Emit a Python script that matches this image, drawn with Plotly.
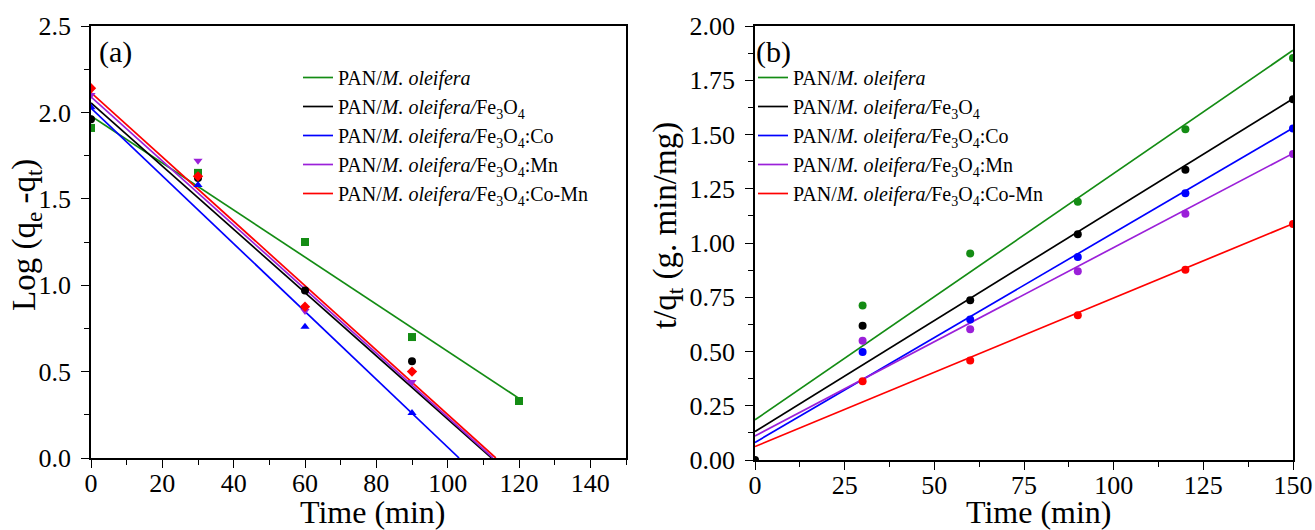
import plotly.graph_objects as go

# ---------------- data ----------------
series_names = [
    "PAN/<i>M. oleifera</i>",
    "PAN/<i>M. oleifera/</i>Fe<sub>3</sub>O<sub>4</sub>",
    "PAN/<i>M. oleifera/</i>Fe<sub>3</sub>O<sub>4</sub>:Co",
    "PAN/<i>M. oleifera/</i>Fe<sub>3</sub>O<sub>4</sub>:Mn",
    "PAN/<i>M. oleifera/</i>Fe<sub>3</sub>O<sub>4</sub>:Co-Mn",
]
colors = ["#148c14", "#000000", "#0000ff", "#9b20d9", "#ff0000"]
symbols_a = ["square", "circle", "triangle-up", "triangle-down", "diamond"]

# (a) pseudo-first-order: Log(qe - qt) vs time
time_a_green = [0, 30, 60, 90, 120]
time_a_other = [0, 30, 60, 90]
loga_green = [1.91, 1.65, 1.25, 0.70, 0.33]
loga_black = [1.96, 1.62, 0.97, 0.56]
loga_blue = [2.03, 1.58, 0.76, 0.26]
loga_purple = [2.10, 1.72, 0.85, 0.44]
loga_red = [2.14, 1.63, 0.875, 0.50]

# fitted lines (a): start value at t=0, end time, end value
fit_a_start_y = [1.98, 2.055, 2.025, 2.09, 2.115]
fit_a_end_t = [120, 112.3, 103.2, 112.7, 113.5]
fit_a_end_y = [0.345, 0.0, 0.0, 0.0, 0.0]

# (b) pseudo-second-order: t/qt vs time
time_b = [30, 60, 90, 120, 150]
time_b_black = [0, 30, 60, 90, 120, 150]
tq_green = [0.712, 0.952, 1.19, 1.524, 1.853]
tq_black = [0.0, 0.619, 0.736, 1.04, 1.338, 1.662]
tq_blue = [0.498, 0.647, 0.935, 1.229, 1.528]
tq_purple = [0.550, 0.603, 0.870, 1.135, 1.41]
tq_red = [0.363, 0.458, 0.667, 0.877, 1.088]

# fitted lines (b): value at t=0 and at t=150
fit_b_t = [0, 150]
fit_b_start_y = [0.185, 0.131, 0.081, 0.111, 0.062]
fit_b_end_y = [1.888, 1.665, 1.530, 1.413, 1.089]

ticks_a_x = [0, 20, 40, 60, 80, 100, 120, 140]
ticks_a_y = [0.0, 0.5, 1.0, 1.5, 2.0, 2.5]
ticks_b_x = [0, 25, 50, 75, 100, 125, 150]
ticks_b_y = [0.0, 0.25, 0.5, 0.75, 1.0, 1.25, 1.5, 1.75, 2.0]

# ---------------- figure ----------------
W, H = 1315, 530
FONT = "Liberation Serif, Times New Roman, serif"

def px(x):
    return x / W

def py(y):
    return 1 - y / H

fig = go.Figure()

pts_a = [
    (time_a_green, loga_green),
    (time_a_other, loga_black),
    (time_a_other, loga_blue),
    (time_a_other, loga_purple),
    (time_a_other, loga_red),
]
for i in range(5):
    fig.add_trace(go.Scatter(
        x=[0, fit_a_end_t[i]], y=[fit_a_start_y[i], fit_a_end_y[i]],
        mode="lines", line=dict(color=colors[i], width=1.7),
        name=series_names[i], legend="legend", xaxis="x", yaxis="y"))
for i in range(5):
    fig.add_trace(go.Scatter(
        x=pts_a[i][0], y=pts_a[i][1], mode="markers",
        marker=dict(color=colors[i], symbol=symbols_a[i], size=8, line=dict(width=0)),
        showlegend=False, xaxis="x", yaxis="y"))

pts_b = [
    (time_b, tq_green),
    (time_b_black, tq_black),
    (time_b, tq_blue),
    (time_b, tq_purple),
    (time_b, tq_red),
]
for i in range(5):
    fig.add_trace(go.Scatter(
        x=fit_b_t, y=[fit_b_start_y[i], fit_b_end_y[i]],
        mode="lines", line=dict(color=colors[i], width=1.7),
        name=series_names[i], legend="legend2", xaxis="x2", yaxis="y2"))
for i in range(5):
    fig.add_trace(go.Scatter(
        x=pts_b[i][0], y=pts_b[i][1], mode="markers",
        marker=dict(color=colors[i], symbol="circle", size=8, line=dict(width=0)),
        showlegend=False, xaxis="x2", yaxis="y2"))

axis_common = dict(
    showline=True, linecolor="black", linewidth=1.6, mirror=True,
    ticks="outside", ticklen=8, tickwidth=1.4, tickcolor="black",
    showgrid=False, zeroline=False, automargin=False,
    ticklabeloverflow="allow",
    tickfont=dict(family=FONT, size=26, color="black"),
)
xstand = dict(ticklabelstandoff=-7)
ystand = dict(ticklabelstandoff=5)

fig.update_layout(
    template="none",
    width=W, height=H,
    margin=dict(l=0, r=0, t=0, b=0, pad=0, autoexpand=False),
    paper_bgcolor="white", plot_bgcolor="white",
    font=dict(family=FONT, color="black"),
    xaxis=dict(domain=[px(91), px(626)], range=[0, 150], anchor="y",
               tickvals=ticks_a_x, minor=dict(ticks="outside", ticklen=5, dtick=10, tickcolor="black", tickwidth=1.2),
               **axis_common, **xstand),
    yaxis=dict(domain=[py(458), py(26)], range=[0, 2.5], anchor="x",
               tickvals=ticks_a_y, tickformat=".1f",
               minor=dict(ticks="outside", ticklen=5, dtick=0.25, tickcolor="black", tickwidth=1.2),
               **axis_common, **ystand),
    xaxis2=dict(domain=[px(755), px(1293)], range=[0, 150], anchor="y2",
                tickvals=ticks_b_x, minor=dict(ticks="outside", ticklen=5, dtick=12.5, tickcolor="black", tickwidth=1.2),
                **axis_common, **xstand),
    yaxis2=dict(domain=[py(460), py(26)], range=[0, 2.0], anchor="x2",
                tickvals=ticks_b_y, tickformat=".2f",
                minor=dict(ticks="outside", ticklen=5, dtick=0.125, tickcolor="black", tickwidth=1.2),
                **axis_common, **ystand),
    legend=dict(x=px(298), y=py(58), xanchor="left", yanchor="top",
                bgcolor="rgba(0,0,0,0)", font=dict(family=FONT, size=20, color="black"),
                tracegroupgap=0),
    legend2=dict(x=px(753), y=py(58), xanchor="left", yanchor="top",
                 bgcolor="rgba(0,0,0,0)", font=dict(family=FONT, size=20, color="black"),
                 tracegroupgap=0),
    showlegend=True,
)

annots = [
    dict(text="(a)", x=px(116), y=py(52), size=30, angle=0),
    dict(text="(b)", x=px(773), y=py(52), size=30, angle=0),
    dict(text="Time (min)", x=px(373), y=py(512), size=32, angle=0),
    dict(text="Time (min)", x=px(1039), y=py(512), size=32, angle=0),
    dict(text="Log (q<sub>e</sub> -q<sub>t</sub>)", x=px(26), y=py(235), size=33, angle=-90),
    dict(text="t/q<sub>t</sub> (g. min/mg)", x=px(667), y=py(226), size=33, angle=-90),
]
for a in annots:
    fig.add_annotation(text=a["text"], x=a["x"], y=a["y"], xref="paper", yref="paper",
                       xanchor="center", yanchor="middle", showarrow=False,
                       textangle=a["angle"],
                       font=dict(family=FONT, size=a["size"], color="black"))

fig.write_html("out.html")
